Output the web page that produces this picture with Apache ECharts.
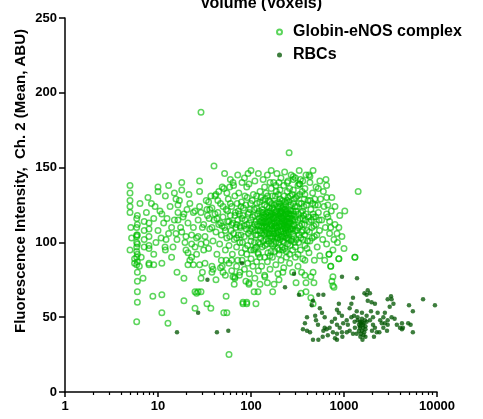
<!DOCTYPE html>
<html>
<head>
<meta charset="utf-8">
<script src="https://cdn.jsdelivr.net/npm/echarts@6/dist/echarts.min.js"></script>
<style>html,body{margin:0;padding:0;background:#fff}#c{width:483px;height:419px}</style>
</head>
<body>
<div id="c"></div>
<script>
var titleText = 'Volume (Voxels)';
var yAxisTitle = 'Fluorescence Intensity,  Ch. 2 (Mean, ABU)';
var seriesNames = ['Globin-eNOS complex', 'RBCs'];
var xMajorTicks = [1, 10, 100, 1000, 10000];
var xMinorTicks = [2,3,4,5,6,7,8,9,20,30,40,50,60,70,80,90,200,300,400,500,600,700,800,900,2000,3000,4000,5000,6000,7000,8000,9000];
var yTicks = [0, 50, 100, 150, 200, 250];

// [volume, intensity]
var globinLeft = [
[5,138],[5,133],[5,128],[5,124],[5,120],[5,95],[5.1,110],[5.2,103],[6,118],[6,112],[6,105],[6,99],[6,92],[6,87],[6,80],[6,74],[6,67],[6,60],[5.9,47],[6.4,126],[6.3,84],
[5.9,116],[5.9,110],[5.9,104],[5.9,100],[5.9,90],[7.1,114],[7.1,108],[7.1,102],[8,113],[8,109],[8,104],[8,98],
[5.9,105],[5.9,97],[5.9,94],[6.9,76],[8.8,64],[11,65],[11,53],[12.8,46],[19,61],[25,56],[26,66],[29,67],[33.6,59],[37,56],
[54,64],[51,53],[55,53],[58,25],[82,59],[90,59],[16,80],[19,76],[29,76],[39,82],[54,88],[67,76],[76,80],[95,73],
[7.8,130],[10,137],[10,134],[13,138],[15,133],[18,135],[21.5,132],[28,134],[40,151],[49,137],[59,137],[42,132],
[15.6,129],[16.4,125],[16.4,120],[16.4,115],[9.3,124],[11,119],[12.5,116],[7.1,97],[8,96],[9,92],[10.8,103],[12.2,102],[11.9,97],
[14,110],[15.6,106],[18,107],[19.5,100],[21,93],[23,90],[25,97],[27,104],[30,110],[24,120],[20.5,122],[18.6,117],[29,120],[33.6,122],[35.5,116],
[29,99],[31,95],[23,105],[5.6,89],[5.6,86],[6.6,90],[8,86],[5.9,85],[8,85],[9,85],[11,86],[21,85],[24,85],[28,85],[30,80],[25,67],[27,67],
[49,84],[50,80],[64,77],[38,84],
[7.5,120],[8.5,126],[9,116],[9.5,100],[10,108],[10.5,121],[11.5,113],[12,131],[13,106],[13.5,124],[14.5,97],[15,115],[16,102],[17,128],[17.5,110],
[19,119],[20,104],[21,113],[22,126],[23,99],[24,110],[25,121],[26,103],[27,115],[28,124],[26,92],[20,95],[14,90],[22,88],[12,95]
];
var globinCore = [
[82,118],[85,104],[88,125],[90,112],[92,98],[95,120],[97,108],[100,115],[100,101],[103,128],[105,110],[107,95],[110,118],[112,105],[115,123],[117,112],[120,100],
[122,116],[125,108],[128,130],[130,120],[132,97],[135,113],[138,105],[140,125],[143,117],[145,102],[148,110],[150,120],[152,93],[155,114],[158,106],[160,127],
[163,118],[165,99],[168,111],[170,123],[173,104],[176,116],[180,109],[182,131],[185,100],[188,121],[190,113],[193,96],[196,107],[200,118],[203,126],[206,102],
[210,112],[213,120],[216,97],[220,109],[224,124],[228,115],[232,104],[236,119],[240,110],[244,128],[248,99],[252,116],[256,107],[260,122],[265,113],[270,101],
[275,118],[280,109],[285,126],[290,104],[295,115],[300,97],[84,111],[87,96],[91,130],[94,106],[98,122],[102,109],[106,132],[109,100],[113,114],[116,126],
[119,93],[123,121],[127,103],[131,115],[134,128],[137,110],[141,98],[144,119],[147,107],[151,131],[154,101],[157,123],[161,112],[164,94],[167,126],[171,117],
[174,108],[178,99],[181,120],[184,111],[187,134],[191,103],[194,124],[198,114],[201,95],[205,129],[208,108],[212,117],[215,123],[219,101],[223,113],[227,131],
[231,96],[235,122],[239,106],[243,117],[247,110],[251,103],[255,127],[259,114],[264,98],[269,121],[274,111],[279,132],[284,106],[289,119],[294,100],[299,124],
[110,112],[120,108],[130,117],[140,111],[150,106],[160,115],[170,109],[180,118],[190,110],[200,105],[210,121],[220,116],[230,110],[240,103],[250,119],
[125,114],[135,120],[145,114],[155,109],[165,119],[175,113],[185,117],[195,119],[205,113],[215,111],[225,106],[235,114],[245,121],[118,105],[128,111],
[138,118],[148,124],[158,117],[168,103],[178,125],[188,106],[198,127],[208,119],[218,104],[228,122],[238,126],[248,112]
];
var globinCore2 = [
[86,115],[89,109],[93,119],[96,113],[99,126],[101,104],[104,117],[108,122],[111,108],[114,97],[118,119],[121,111],[124,127],[126,99],[129,106],[133,122],
[136,101],[139,114],[142,129],[146,112],[149,99],[153,118],[156,128],[159,103],[162,121],[166,113],[169,131],[172,98],[177,122],[179,111],[183,104],[186,126],
[189,115],[192,108],[197,132],[199,100],[202,116],[207,124],[211,104],[214,114],[217,128],[221,118],[226,100],[229,112],[233,127],[237,108],[241,120],[246,114],
[250,130],[254,102],[258,119],[262,109],[267,125],[272,116],[277,102],[282,121],[287,112],[292,129],[297,108],[302,117],[308,102],[313,124],[318,110],[323,119],
[328,105],[333,132],[338,116],[343,103],[348,126],[353,112],[358,121],[363,108],[368,118],[373,129],[378,105],[385,115],[395,125],[405,101],[415,117],[425,107],
[435,128],[445,115],[455,103],[465,119],[475,111],[485,129],[495,117],[510,105],[525,125],[540,115],
[70,103],[73,121],[76,111],[79,127],[81,100],[83,123],[86,131],[62,112],[65,106],[67,118],[60,126],[58,114],[56,121],[53,108],[50,124],[47,113],[44,128],
[41,119],[38,110],[35,127],
[115,131],[125,134],[145,133],[165,136],[185,138],[205,135],[225,138],[245,134],[265,131],[285,135],[305,130],[120,92],[140,90],[160,91],[180,94],[200,92],
[220,95],[240,94],[260,92],[280,95],[300,90],[90,92],[100,95],[110,96],
[130,110],[140,106],[150,113],[160,108],[170,116],[180,113],[190,120],[200,111],[210,107],[220,122],[230,118],[240,114],[250,108],[260,116],[270,109],
[280,115],[290,111],[175,106],[195,103],[215,116],[235,109],[255,113],[155,120],[135,116],[145,108],[165,104],[185,110],[205,120],[225,111],[245,105],[265,119]
];
var globinMid = [
[31,112],[32,104],[33,128],[34,118],[35,96],[36,109],[38,123],[39,101],[40,115],[41,131],[42,107],[43,92],[44,120],[45,112],[46,99],[47,126],[48,105],
[50,117],[51,136],[52,110],[53,95],[54,122],[55,103],[56,114],[57,129],[58,98],[60,118],[61,108],[62,124],[63,92],[64,113],[66,102],[67,131],[68,120],
[69,110],[70,97],[71,126],[72,115],[73,105],[74,133],[75,119],[76,100],[77,110],[78,124],[79,93],[80,116],[65,138],[55,133],[45,134],[37,131],[62,88],
[72,88],[48,88],[78,105],[70,112],[59,104],[49,111],[43,116],[36,122],[33,100]
];
var globinRight = [
[305,121],[310,108],[315,131],[320,115],[325,100],[330,126],[335,111],[340,95],[345,120],[350,107],[355,134],[360,116],[365,102],[370,124],[375,112],
[380,98],[390,119],[400,108],[410,128],[420,114],[430,101],[440,122],[450,110],[460,133],[470,117],[480,104],[490,125],[500,112],[515,97],[530,120],
[545,108],[560,129],[575,115],[590,102],[610,124],[630,110],[650,99],[670,117],[700,106],[730,121],[760,95],[800,112],[850,100],[900,118],[950,104],
[1000,96],[320,138],[340,142],[380,136],[430,140],[530,136],[600,134],[320,92],[360,89],[420,93],[480,88],[550,91],[620,88],[400,96],[460,126],
[1420,134],[1020,121],[880,110],[840,106],[1310,90],[880,89],[690,92],[780,102],[720,110],[700,114],[650,119],[670,125],[800,124],[650,130],[740,130],
[640,142],[650,138],[465,148],[420,145],[430,144],[550,141],[500,137],[285,142],[335,139],[380,132],[93,146],[64,140],[80,140],[90,137],[160,140],
[200,140],[245,140],[285,144],[330,139]
];
var globinSparse = [
[52,146],[60,142],[72,145],[85,143],[100,148],[110,141],[120,146],[135,142],[150,145],[165,148],[175,140],[190,146],[210,143],[230,147],[250,141],
[270,145],[300,143],[330,148],[360,141],[390,145],[28,141],[18,140],[95,139],[140,137],[260,136],
[32,86],[38,80],[42,75],[47,83],[53,78],[58,86],[62,81],[66,72],[70,84],[75,78],[80,88],[85,82],[88,74],[92,86],[96,79],[100,89],[105,84],[110,76],
[115,87],[120,81],[125,90],[130,84],[140,78],[150,87],[160,82],[170,90],[185,85],[195,79],[210,88],[225,83],[240,90],[260,86],[280,80],[320,84],
[350,80],[380,88],[150,73],[125,72],
[67,77],[82,60],[90,60],[113,59],[95,72],[108,67],[119,67],[171,67],[141,77],[177,72],[200,75],[220,80],[305,73],[390,73],[475,73],[440,77],[380,78],
[390,67],[440,63],[465,59],[740,74],[780,70],[720,84],[465,80],[345,66],[690,92],[880,89],[1310,90],[720,84],[760,77],[760,71],
[29,187],[257,160]
];
var rbcPoints = [
[16,40],[27,53],[34,75],[43,40],[57,41],[80,86],[290,79],[232,70],[328,65],[951,77],[1380,76],[7080,62],[9500,58],[5000,58],[5500,54],
[464,35],[530,35],[840,35],[2100,37],[5500,40],[4200,42],[530,65],[600,65],
[400,50],[362,42],[431,40],[500,48],[525,45],[580,53],[620,50],[650,42],[600,41],[700,43],[740,47],[800,49],[840,45],[880,53],[950,51],[950,40],
[760,40],[464,61],[450,58],[1070,48],[1150,56],[1200,59],[1250,63],[1280,51],[1310,43],[1400,48],[1450,45],[1480,43],[1560,41],[1600,43],[1620,46],
[1520,39],[1700,42],[1560,53],[1560,49],[1750,47],[1660,66],[1750,65],[1800,61],[1980,60],[1950,54],[2050,50],[1900,48],[2150,59],[2300,53],[2450,48],
[2550,46],[2400,40],[2150,43],[2750,53],[2950,62],[3200,64],[3400,59],[3100,57],[2950,48],[3250,50],[3500,49],[2900,41],[4200,46],[4300,43],[5200,45],
[1150,41],[1070,40],[960,37],[900,43],[840,39],[800,36],[670,38],[590,37],[620,43],[400,41],[380,46],[1700,37],[1500,37],[1370,39],[1250,39],
[1480,47],[1400,50],[1370,54],[1200,50],[1100,45],[980,46],[2050,45],[2650,43],[2750,46],[3700,45],[4000,43],[4900,46],[840,55],[880,59],
[1800,68],[1900,66],[3250,62],[550,56],[490,51],[2250,40],[2650,50],[2950,45],
[1600,45],[1650,40],[1500,44],[1550,47],[1620,38],[1700,44],[1450,41],[1580,35],[1680,48],[1520,46],[1300,47],[1750,51],[2000,41]
];

var globinPoints = globinLeft.concat(globinCore, globinCore2, globinMid, globinRight, globinSparse);

var chart = echarts.init(document.getElementById('c'), null, {renderer: 'canvas'});
var fontFam = 'Liberation Sans, Arial, sans-serif';
var axisFont = {color: '#000', fontSize: 13, fontWeight: 'bold', fontFamily: fontFam};
chart.setOption({
  animation: false,
  backgroundColor: '#fff',
  grid: {left: 65, right: 46, top: 18, bottom: 27, containLabel: false},
  legend: {
    orient: 'vertical', left: 271, top: 19, itemWidth: 5, itemHeight: 5, itemGap: 7,
    textStyle: {color: '#000', fontSize: 16, fontWeight: 'bold', fontFamily: fontFam, lineHeight: 16, padding: [0,0,0,6]},
    data: seriesNames
  },
  graphic: [
    {type: 'text', x: 261, y: 4, style: {text: titleText, textAlign: 'center', textVerticalAlign: 'middle', fill: '#000', font: 'bold 16px ' + fontFam}},
    {type: 'text', rotation: Math.PI / 2, x: 21, y: 181, style: {text: yAxisTitle, textAlign: 'center', textVerticalAlign: 'middle', fill: '#000', font: 'bold 15px ' + fontFam}}
  ],
  xAxis: [{
    type: 'log', logBase: 10, min: xMajorTicks[0], max: xMajorTicks[xMajorTicks.length - 1],
    position: 'bottom',
    axisLine: {show: true, onZero: false, lineStyle: {color: '#000', width: 1.5}},
    axisTick: {show: true, inside: false, length: 5, lineStyle: {color: '#000', width: 1.5}},
    axisLabel: Object.assign({margin: 8, formatter: function (v) { return String(Math.round(v)); }}, axisFont),
    splitLine: {show: false}, minorTick: {show: false}
  }, {
    type: 'log', logBase: 10, min: xMajorTicks[0], max: xMajorTicks[xMajorTicks.length - 1],
    position: 'bottom', gridIndex: 0,
    axisLine: {show: false},
    axisTick: {show: true, inside: false, length: 3, lineStyle: {color: '#000', width: 1.2}, customValues: xMinorTicks},
    axisLabel: {show: false},
    splitLine: {show: false}
  }],
  yAxis: {
    type: 'value', min: yTicks[0], max: yTicks[yTicks.length - 1], interval: 50,
    axisLine: {show: true, onZero: false, lineStyle: {color: '#000', width: 1.5}},
    axisTick: {show: true, length: 6, lineStyle: {color: '#000', width: 1.5}},
    axisLabel: Object.assign({margin: 8}, axisFont),
    splitLine: {show: false}
  },
  series: [{
    name: seriesNames[0], type: 'scatter', xAxisIndex: 0, symbol: 'circle', symbolSize: 5.5,
    itemStyle: {color: 'rgba(255,255,255,0)', borderColor: 'rgba(0,190,0,0.8)', borderWidth: 1.5},
    data: globinPoints
  }, {
    name: seriesNames[1], type: 'scatter', xAxisIndex: 0, symbol: 'circle', symbolSize: 4.5,
    itemStyle: {color: 'rgba(0,85,0,0.95)'},
    data: rbcPoints
  }]
});
</script>
</body>
</html>
